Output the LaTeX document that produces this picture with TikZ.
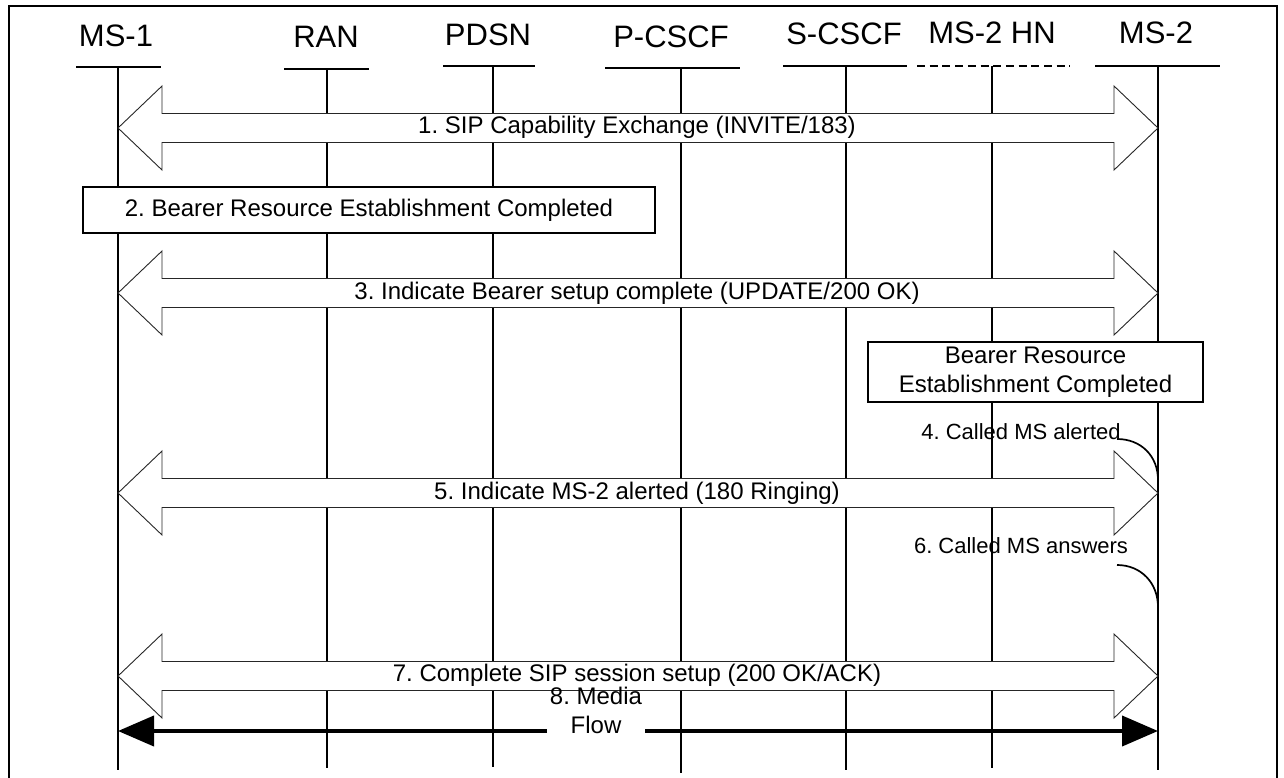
\documentclass[tikz,border=0pt]{standalone}
\usepackage{fontspec}
\setmainfont{Liberation Sans}
\usetikzlibrary{arrows.meta,calc}
\frenchspacing
\tikzset{
  hdr/.style={font=\fontsize{31}{36}\selectfont, anchor=base, inner sep=0pt},
  msg/.style={font=\fontsize{24}{29}\selectfont, anchor=base, inner sep=0pt},
  side/.style={font=\fontsize{22}{26}\selectfont, anchor=base, inner sep=0pt},
  life/.style={line width=1.7pt},
  hbar/.style={line width=1.7pt},
  fat/.style={fill=white, draw=black!85, line width=0.9pt, line join=miter},
  boxst/.style={draw, fill=white, line width=1.7pt, font=\fontsize{24}{29}\selectfont, align=center, inner sep=0pt},
  media/.style={line width=4pt, -{Triangle[length=36pt,width=30pt]}},
  hook/.style={line width=1.7pt},
}
\newcommand\fatarrow[1]{%
  \path (ms1 |- 0,#1) coordinate (L) (ms2 |- 0,#1) coordinate (R);
  \draw[fat] (L) -- ++(44,-42) -- ++(0,27.5) -- ($(R)+(-44,-14.5)$) -- ++(0,-27.5) -- (R)
    -- ++(-44,42) -- ++(0,-27.5) -- ($(L)+(44,14.5)$) -- ++(0,27.5) -- cycle;}
\begin{document}
\begin{tikzpicture}[x=1pt,y=-1pt]
\useasboundingbox (0,0) rectangle (1284,778);
% frame
\draw[line width=2pt] (9,790) -- (9,6) -- (1277,6) -- (1277,790);
% headers
\node[hdr] (h1) at (116,47) {MS-1};
\node[hdr] (h2) at (326,48) {RAN};
\node[hdr] (h3) at (488,46) {PDSN};
\node[hdr] (h4) at (671,48) {P-CSCF};
\node[hdr] (h5) at (844,45) {S-CSCF};
\node[hdr] (h6) at (992,44) {MS-2 HN};
\node[hdr] (h7) at (1156,44) {MS-2};
% header bars
\draw[hbar] (76,67) -- (161,67);
\draw[hbar] (284,69) -- (369,69);
\draw[hbar] (443,66) -- (535,66);
\draw[hbar] (605,68) -- (740,68);
\draw[hbar] (783,66) -- (907,66);
\draw[hbar, dash pattern=on 8pt off 4.7pt] (917,66) -- (1070,66);
\draw[hbar] (1095,66) -- (1220,66);
% lifelines
\coordinate (ms1) at (118,67);  \coordinate (ms1b) at (118,770);
\coordinate (ran) at (327,69);  \coordinate (ranb) at (327,768);
\coordinate (pdsn) at (493,66); \coordinate (pdsnb) at (493,767);
\coordinate (pcscf) at (681,68); \coordinate (pcscfb) at (681,773);
\coordinate (scscf) at (846,66); \coordinate (scscfb) at (846,770);
\coordinate (hn) at (992,66);   \coordinate (hnb) at (992,768);
\coordinate (ms2) at (1158,66); \coordinate (ms2b) at (1158,770);
\foreach \a/\b in {ms1/ms1b,ran/ranb,pdsn/pdsnb,pcscf/pcscfb,scscf/scscfb,hn/hnb,ms2/ms2b}
  \draw[life] (\a) -- (\b);
% fat double arrows
\fatarrow{128}
\fatarrow{293}
\fatarrow{493}
\fatarrow{676}
\node[msg] (m1) at (637,134) {1. SIP Capability Exchange (INVITE/183)};
\node[msg] (m3) at (637,299) {3. Indicate Bearer setup complete (UPDATE/200 OK)};
\node[msg] (m5) at (637,499) {5. Indicate MS-2 alerted (180 Ringing)};
\node[msg] (m7) at (637,681) {7. Complete SIP session setup (200 OK/ACK)};
% boxes
\node[boxst, minimum width=572pt, minimum height=46pt] (b2) at (369,210) {2. Bearer Resource Establishment Completed};
\node[boxst, minimum width=335pt, minimum height=60pt] (b4) at (1035.5,372) {Bearer Resource\\Establishment Completed};
% called MS labels and hooks
\node[side] (s4) at (1021,439) {4. Called MS alerted};
\node[side] (s6) at (1021,553) {6. Called MS answers};
\coordinate (c4a) at (1117,439); \coordinate (c4b) at (1158,480);
\coordinate (c6a) at (1117,565); \coordinate (c6b) at (1158,607);
\draw[hook] (c4a) .. controls ($(c4a)+(24,0)$) and ($(c4b)+(0,-24)$) .. (c4b);
\draw[hook] (c6a) .. controls ($(c6a)+(24,0)$) and ($(c6b)+(0,-24)$) .. (c6b);
% media flow
\node[font=\fontsize{24}{29}\selectfont, align=center, inner sep=0pt] (mf) at (596,710) {8. Media\\Flow};
\coordinate (mfL) at (547,731); \coordinate (mfR) at (645,731);
\draw[media] (mfL) -- (ms1 |- mfL);
\draw[media] (mfR) -- (ms2 |- mfR);
\end{tikzpicture}
\end{document}
